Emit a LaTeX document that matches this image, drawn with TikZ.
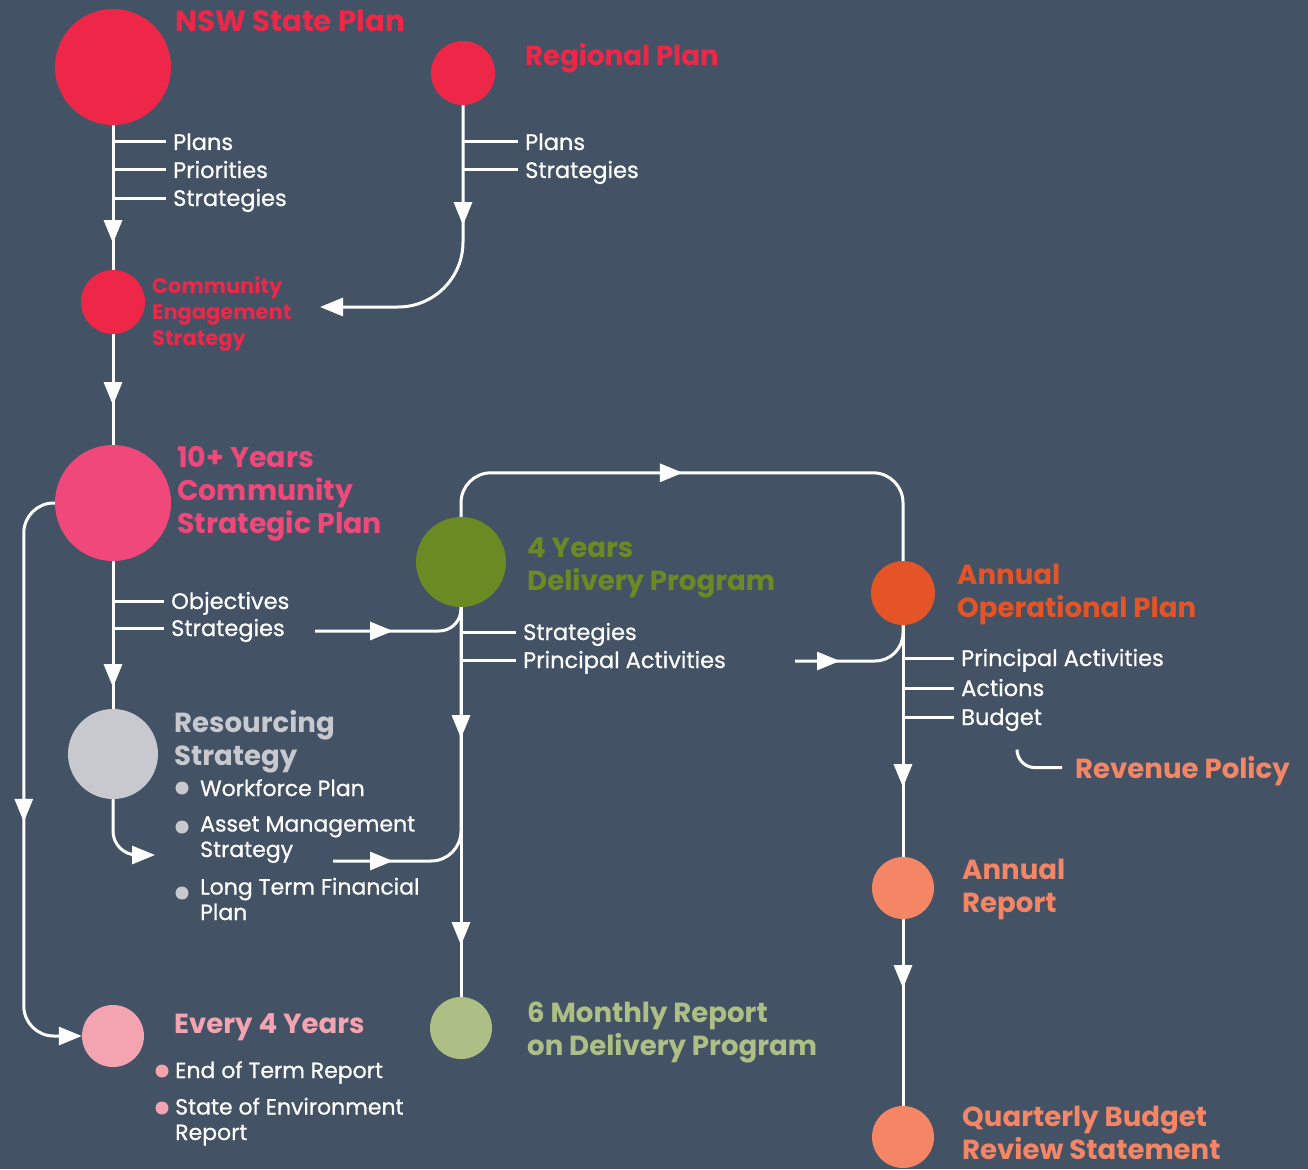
\documentclass[tikz,border=0pt]{standalone}
\usepackage{fontspec}
\setmainfont{Poppins}
\newfontfamily\labelfont{Poppins}[FakeBold=0.7]
\usetikzlibrary{arrows.meta, positioning, decorations.markings, calc}

\definecolor{slatebg}{RGB}{67,83,101}
\definecolor{nswred}{RGB}{238,38,72}
\definecolor{csppink}{RGB}{240,72,122}
\definecolor{resgrey}{RGB}{200,201,206}
\definecolor{termpink}{RGB}{244,164,177}
\definecolor{dpgreen}{RGB}{107,138,35}
\definecolor{reportgreen}{RGB}{173,191,132}
\definecolor{opsorange}{RGB}{229,84,38}
\definecolor{reportsalmon}{RGB}{244,133,101}

\begin{document}
\begin{tikzpicture}[
        x=1pt, y=-1pt,
        font=\labelfont\fontsize{22.5}{26}\selectfont,
        stop/.style = {circle, inner sep=0pt, minimum size=#1},
        flow/.style = {draw=white, line width=3pt},
        endtip/.style = {-{Triangle[length=23pt, width=18pt]}},
        arrowat/.style = {postaction={decorate, decoration={markings,
            mark=at position #1 with {\arrow{Triangle[length=23pt, width=18pt]}}}}},
        heading/.style = {anchor=base west, align=left, inner sep=0pt,
            font=\fontsize{27.6}{33}\selectfont\bfseries},
        item/.style = {anchor=west, inner xsep=7pt, inner ysep=0pt,
            text height=20pt, text depth=4pt, text=white},
        entry/.style = {anchor=base west, align=left, inner sep=0pt, text=white,
            font=\labelfont\fontsize{22}{25.5}\selectfont},
        bullet/.style = {circle, inner sep=0pt, minimum size=13pt}
    ]

    \useasboundingbox (0,0) rectangle (1308,1169);
    \fill[slatebg] (0,0) rectangle (1308,1169);

    % stages
    \node[stop=116pt, fill=nswred] (nsw) at (113,67) {};
    \node[stop=64pt, fill=nswred] (reg) at (463,73) {};
    \node[stop=64pt, fill=nswred] (ces) at (113,302) {};
    \node[stop=116pt, fill=csppink] (csp) at (113,503) {};
    \node[stop=90pt, fill=resgrey] (res) at (113,754) {};
    \node[stop=62pt, fill=termpink] (e4y) at (113,1036) {};
    \node[stop=90pt, fill=dpgreen] (dp) at (461,562) {};
    \node[stop=62pt, fill=reportgreen] (smr) at (461,1028) {};
    \node[stop=64pt, fill=opsorange] (aop) at (903,593) {};
    \node[stop=62pt, fill=reportsalmon] (ar) at (903,888) {};
    \node[stop=62pt, fill=reportsalmon] (qbr) at (903,1137) {};

    % stage titles (base = last line)
    \node[heading, text=nswred, font=\fontsize{29.3}{36}\selectfont\bfseries] (nswt) at (175,32) {NSW State Plan};
    \node[heading, text=nswred, font=\fontsize{27.6}{34}\selectfont\bfseries] (regt) at (525,66) {Regional Plan};
    \node[heading, text=nswred, font=\fontsize{21}{26}\selectfont\bfseries] (cest) at (152,345) {Community\\Engagement\\Strategy};
    \node[heading, text=csppink, font=\fontsize{28.4}{33}\selectfont\bfseries] (cspt) at (177,533) {10+ Years\\Community\\Strategic Plan};
    \node[heading, text=resgrey] (rest) at (174,765) {Resourcing\\Strategy};
    \node[heading, text=termpink] (e4yt) at (174,1033) {Every 4 Years};
    \node[heading, text=dpgreen] (dpt) at (527,590) {4 Years\\Delivery Program};
    \node[heading, text=reportgreen] (smrt) at (527,1055) {6 Monthly Report\\on Delivery Program};
    \node[heading, text=opsorange] (aopt) at (957,617) {Annual\\Operational Plan};
    \node[heading, text=reportsalmon] (revt) at (1075,778) {Revenue Policy};
    \node[heading, text=reportsalmon] (art) at (962,912) {Annual\\Report};
    \node[heading, text=reportsalmon] (qbrt) at (962,1159) {Quarterly Budget\\Review Statement};

    % outputs on the spines
    \node[item] (nswplans) at (166,142) {Plans};
    \node[item] (nswprio) at (166,170) {Priorities};
    \node[item] (nswstrat) at (166,198) {Strategies};
    \node[item] (regplans) at (518,142) {Plans};
    \node[item] (regstrat) at (518,170) {Strategies};
    \node[item] (cspobj) at (164,601) {Objectives};
    \node[item] (cspstrat) at (164,628) {Strategies};
    \node[item] (dpstrat) at (516,632) {Strategies};
    \node[item] (dpact) at (516,660) {Principal Activities};
    \node[item] (aopact) at (954,658) {Principal Activities};
    \node[item] (aopactions) at (954,688) {Actions};
    \node[item] (aopbudget) at (954,717) {Budget};

    \draw[flow] (nswplans.west) -- (nswplans.west -| nsw.south);
    \draw[flow] (nswprio.west) -- (nswprio.west -| nsw.south);
    \draw[flow] (nswstrat.west) -- (nswstrat.west -| nsw.south);
    \draw[flow] (regplans.west) -- (regplans.west -| reg.south);
    \draw[flow] (regstrat.west) -- (regstrat.west -| reg.south);
    \draw[flow] (cspobj.west) -- (cspobj.west -| csp.south);
    \draw[flow] (cspstrat.west) -- (cspstrat.west -| csp.south);
    \draw[flow] (dpstrat.west) -- (dpstrat.west -| dp.south);
    \draw[flow] (dpact.west) -- (dpact.west -| dp.south);
    \draw[flow] (aopact.west) -- (aopact.west -| aop.south);
    \draw[flow] (aopactions.west) -- (aopactions.west -| aop.south);
    \draw[flow] (aopbudget.west) -- (aopbudget.west -| aop.south);

    % resourcing and reporting lists
    \node[bullet, fill=resgrey] (wfpdot) at (182,788) {};
    \node[entry] (wfp) at (200,796) {Workforce Plan};
    \node[bullet, fill=resgrey] (amsdot) at (182,827) {};
    \node[entry] (ams) at (200,857) {Asset Management\\Strategy};
    \node[bullet, fill=resgrey] (ltfpdot) at (182,893) {};
    \node[entry] (ltfp) at (200,920) {Long Term Financial\\Plan};
    \node[bullet, fill=termpink] (etrdot) at (162,1071) {};
    \node[entry] (etr) at (175,1078) {End of Term Report};
    \node[bullet, fill=termpink] (soedot) at (162,1108) {};
    \node[entry] (soe) at (175,1140) {State of Environment\\Report};

    \coordinate (cesin) at (320,307);
    \coordinate (resin) at (155,855);
    \coordinate (resout) at (333,861);
    \coordinate (objout) at (315,631);
    \coordinate (aopin) at (795,661);

    % connectors
    \draw[flow, arrowat=118pt] (nsw) -- (ces);
    \draw[flow, endtip, arrowat=120pt, rounded corners=65pt] (reg) |- (cesin);
    \draw[flow, arrowat=71pt] (ces) -- (csp);
    \draw[flow, arrowat=126pt] (csp) -- (res);
    \draw[flow, endtip, arrowat=337pt, rounded corners=30pt] (csp.west) -- ++(-31,0) |- (e4y);
    \draw[flow, endtip, rounded corners=24pt] (res) |- (resin);
    \draw[flow, arrowat=60pt, rounded corners=30pt] (resout) -| (dp);
    \draw[flow, arrowat=78pt, rounded corners=22pt] (objout) -| (dp);
    \draw[flow, arrowat=253pt, rounded corners=30pt] (dp.north) -- ++(0,-44) -| (aop);
    \draw[flow, arrowat=131pt, arrowat=338pt] (dp) -- (smr);
    \draw[flow, arrowat=45pt, rounded corners=28pt] (aopin) -| (aop);
    \draw[flow, arrowat=162pt] (aop) -- (ar);
    \draw[flow, arrowat=69pt] (ar) -- (qbr);
    \draw[flow, rounded corners=18pt] ([xshift=-13pt, yshift=3pt]revt.west) -- ++(-45,0) -- ++(0,-18);

\end{tikzpicture}
\end{document}
